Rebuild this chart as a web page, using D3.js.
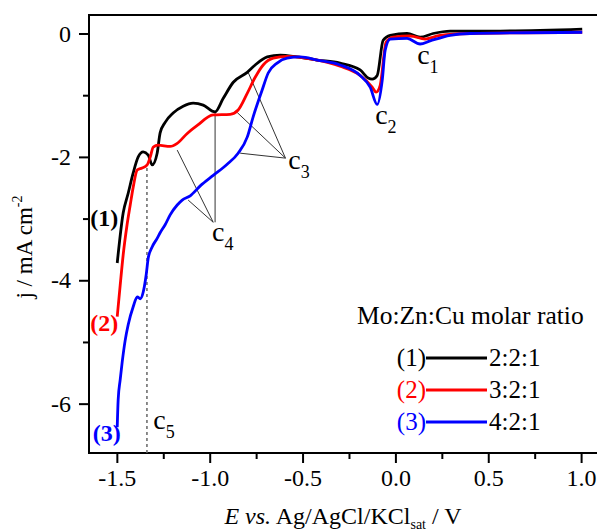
<!DOCTYPE html>
<html>
<head>
<meta charset="utf-8">
<script src="https://cdn.jsdelivr.net/npm/d3@7"></script>
<style>
  body { margin: 0; background: #fff; }
  svg { font-family: "Liberation Serif", "Times New Roman", serif; }
</style>
</head>
<body>
<div id="chart"></div>
<script>
// curve data: [E (V), j (mA cm-2)]
const curve1 = [
  [-1.498, -3.72], [-1.466, -2.91], [-1.439, -2.59], [-1.412, -2.26], [-1.385, -2.00],
  [-1.358, -1.92], [-1.331, -1.97], [-1.310, -2.13], [-1.283, -1.94], [-1.267, -1.61],
  [-1.240, -1.44], [-1.197, -1.29], [-1.143, -1.18], [-1.089, -1.13], [-1.035, -1.16],
  [-0.971, -1.27], [-0.927, -1.05], [-0.873, -0.79], [-0.798, -0.63], [-0.755, -0.51],
  [-0.690, -0.38], [-0.620, -0.35], [-0.529, -0.38], [-0.421, -0.43], [-0.298, -0.48],
  [-0.190, -0.59], [-0.147, -0.72], [-0.125, -0.74], [-0.098, -0.68], [-0.066, -0.11],
  [-0.028, -0.03], [0.063, 0.00], [0.133, -0.06], [0.203, 0.00], [0.295, 0.04],
  [0.564, 0.04], [1.006, 0.07]
];
const curve2 = [
  [-1.498, -4.59], [-1.482, -4.08], [-1.466, -3.59], [-1.445, -3.10], [-1.428, -2.78],
  [-1.412, -2.49], [-1.390, -2.21], [-1.364, -2.18], [-1.337, -2.13], [-1.320, -2.00],
  [-1.304, -1.84], [-1.278, -1.81], [-1.213, -1.83], [-1.175, -1.78], [-1.121, -1.62],
  [-1.067, -1.49], [-0.981, -1.32], [-0.890, -1.31], [-0.847, -1.24], [-0.798, -0.97],
  [-0.755, -0.71], [-0.712, -0.51], [-0.658, -0.40], [-0.583, -0.37], [-0.443, -0.42],
  [-0.298, -0.53], [-0.190, -0.68], [-0.125, -0.87], [-0.104, -0.95], [-0.082, -0.84],
  [-0.050, -0.14], [-0.012, -0.06], [0.080, -0.04], [0.160, -0.09], [0.241, -0.03],
  [0.402, 0.00], [1.006, 0.02]
];
const curve3 = [
  [-1.498, -6.38], [-1.493, -5.94], [-1.482, -5.61], [-1.471, -5.32], [-1.455, -4.97],
  [-1.439, -4.72], [-1.412, -4.43], [-1.390, -4.27], [-1.374, -4.30], [-1.358, -4.19],
  [-1.342, -3.91], [-1.331, -3.64], [-1.310, -3.46], [-1.283, -3.32], [-1.267, -3.23],
  [-1.240, -3.10], [-1.213, -2.94], [-1.175, -2.78], [-1.148, -2.70], [-1.105, -2.63],
  [-1.051, -2.47], [-0.981, -2.30], [-0.906, -2.12], [-0.847, -1.94], [-0.798, -1.68],
  [-0.766, -1.35], [-0.718, -0.92], [-0.685, -0.64], [-0.637, -0.48], [-0.583, -0.40],
  [-0.513, -0.38], [-0.421, -0.43], [-0.298, -0.51], [-0.190, -0.68], [-0.136, -0.87],
  [-0.098, -1.15], [-0.071, -0.76], [-0.055, -0.27], [-0.028, -0.09], [0.063, -0.08],
  [0.133, -0.17], [0.187, -0.12], [0.295, -0.03], [0.402, 0.00], [1.006, 0.02]
];

const seriesNames = ["(1)", "(2)", "(3)"];
const ratios = ["2:2:1", "3:2:1", "4:2:1"];
const colors = ["#000000", "#ff0000", "#0000ff"];

const xTicks = [-1.5, -1.0, -0.5, 0.0, 0.5, 1.0];
const yTicks = [0, -2, -4, -6];

// peak markers: label, label anchor [E, j], pointer lines [[E, j], [E, j]]
const peaks = [
  { sub: "1", at: [0.117, -0.50], lines: [] },
  { sub: "2", at: [-0.109, -1.47], lines: [] },
  { sub: "3", at: [-0.577, -2.20], lines: [
      [[-0.592, -2.02], [-0.793, -0.63]],
      [[-0.592, -2.02], [-0.852, -1.28]],
      [[-0.592, -2.02], [-0.836, -1.94]]] },
  { sub: "4", at: [-0.987, -3.37], lines: [
      [[-0.981, -3.06], [-1.175, -1.89]],
      [[-0.981, -3.06], [-1.116, -2.70]],
      [[-0.971, -3.06], [-0.971, -1.27]]] },
  { sub: "5", at: [-1.304, -6.41], lines: [] }
];
const c5Line = [[-1.338, -2.18], [-1.338, -6.8]];

const width = 597, height = 532;
const margin = { top: 15, left: 89, bottom: 79 };

const svg = d3.select("#chart").append("svg")
  .attr("width", width)
  .attr("height", height);

const x = d3.scaleLinear().domain([-1.65, 1.1]).range([margin.left, margin.left + 2.75 * 185.7]);
const y = d3.scaleLinear().domain([0.3, -6.8]).range([margin.top, height - margin.bottom]);

// frame
svg.append("rect")
  .attr("x", x(-1.65)).attr("y", y(0.3))
  .attr("width", x(1.1) - x(-1.65) + 5)
  .attr("height", y(-6.8) - y(0.3))
  .attr("fill", "none").attr("stroke", "#000").attr("stroke-width", 2);

// x axis
svg.append("g")
  .attr("transform", `translate(0,${y(-6.8)})`)
  .call(d3.axisBottom(x).tickValues(xTicks).tickFormat(d3.format(".1f")).tickSize(10).tickPadding(6));
svg.append("g")
  .attr("transform", `translate(0,${y(-6.8)})`)
  .call(d3.axisBottom(x).tickValues([-1.25, -0.75, -0.25, 0.25, 0.75]).tickFormat("").tickSize(6));

svg.append("g")
  .attr("transform", `translate(${x(-1.65)},0)`)
  .call(d3.axisLeft(y).tickValues(yTicks).tickFormat(d3.format("d")).tickSize(10).tickPadding(8));
svg.append("g")
  .attr("transform", `translate(${x(-1.65)},0)`)
  .call(d3.axisLeft(y).tickValues([-1, -3, -5]).tickFormat("").tickSize(6));

svg.selectAll(".domain").remove();
svg.selectAll(".tick line").attr("stroke", "#000").attr("stroke-width", 2);
svg.selectAll(".tick text")
  .attr("fill", "#000")
  .style("font-family", "'Liberation Serif', serif")
  .style("font-size", "24px");
// use hyphen-minus like the original
svg.selectAll(".tick text").text(function() { return this.textContent.replace("\u2212", "-"); });

// axis titles
const xt = svg.append("text")
  .attr("x", 343).attr("y", 524)
  .attr("text-anchor", "middle")
  .style("font-size", "24px");
xt.append("tspan").attr("font-style", "italic").text("E vs.");
xt.append("tspan").text(" Ag/AgCl/KCl");
xt.append("tspan").attr("dy", 5).style("font-size", "14px").text("sat");
xt.append("tspan").attr("dy", -5).text(" / V");

const yt = svg.append("text")
  .attr("transform", "translate(32,247) rotate(-90)")
  .attr("text-anchor", "middle")
  .style("font-size", "23px");
yt.append("tspan").text("j / mA cm");
yt.append("tspan").attr("dy", -10).style("font-size", "14px").text("-2");

// guide lines
const gl = svg.append("g").attr("stroke", "#333").attr("stroke-width", 1);
peaks.forEach(p => p.lines.forEach(l => {
  gl.append("line")
    .attr("x1", x(l[0][0])).attr("y1", y(l[0][1]))
    .attr("x2", x(l[1][0])).attr("y2", y(l[1][1]));
}));
svg.append("line")
  .attr("x1", x(c5Line[0][0])).attr("y1", y(c5Line[0][1]))
  .attr("x2", x(c5Line[1][0])).attr("y2", y(c5Line[1][1]))
  .attr("stroke", "#666").attr("stroke-width", 1.5).attr("stroke-dasharray", "3,3");

// curves
const line = d3.line()
  .x(d => x(d[0])).y(d => y(d[1]))
  .curve(d3.curveMonotoneX);

[curve1, curve2, curve3].forEach((c, i) => {
  svg.append("path")
    .datum(c)
    .attr("d", line)
    .attr("fill", "none")
    .attr("stroke", colors[i])
    .attr("stroke-width", 2.8)
    .attr("stroke-linejoin", "round");
});

// peak labels
peaks.forEach(p => {
  const t = svg.append("text")
    .attr("x", x(p.at[0])).attr("y", y(p.at[1]))
    .style("font-size", "28px");
  t.append("tspan").text("c");
  t.append("tspan").attr("dy", 9).style("font-size", "18px").text(p.sub);
});

// curve labels
const curveLabelPos = [[-1.643, -3.12], [-1.643, -4.82], [-1.63, -6.61]];
curveLabelPos.forEach((pos, i) => {
  svg.append("text")
    .attr("x", x(pos[0])).attr("y", y(pos[1]))
    .attr("fill", colors[i])
    .attr("font-weight", "bold")
    .style("font-size", "24px")
    .text(seriesNames[i]);
});

// legend
const legend = svg.append("g");
legend.append("text")
  .attr("x", 357).attr("y", 324)
  .style("font-size", "25.5px")
  .text("Mo:Zn:Cu molar ratio");
seriesNames.forEach((n, i) => {
  const yy = 358 + i * 32;
  legend.append("text")
    .attr("x", 426).attr("y", yy + 8)
    .attr("text-anchor", "end")
    .attr("fill", colors[i])
    .style("font-size", "25px")
    .text(n);
  legend.append("line")
    .attr("x1", 426).attr("x2", 487)
    .attr("y1", yy).attr("y2", yy)
    .attr("stroke", colors[i]).attr("stroke-width", 2.8);
  legend.append("text")
    .attr("x", 489).attr("y", yy + 8)
    .style("font-size", "25px")
    .text(ratios[i]);
});
</script>
</body>
</html>
